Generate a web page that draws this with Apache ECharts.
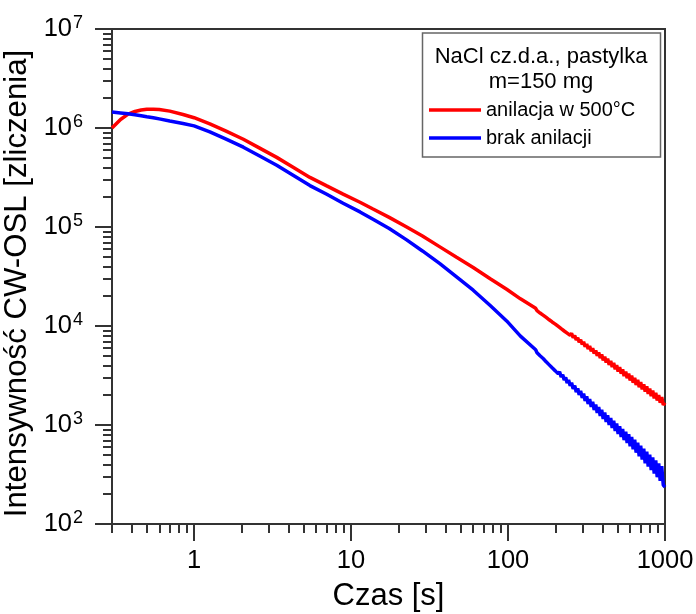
<!DOCTYPE html>
<html><head><meta charset="utf-8">
<script src="https://cdn.jsdelivr.net/npm/echarts@6/dist/echarts.min.js"></script>
<style>html,body{margin:0;padding:0;background:#fff}#c{width:696px;height:614px}</style>
</head><body><div id="c"></div>
<script>
// Time [s]
const czas = [0.3, 0.34, 0.38, 0.42, 0.46, 0.5, 0.55, 0.6, 0.7, 0.85, 1.0, 1.26, 1.6, 2.06, 2.6, 3.36, 4.3, 5.47, 7, 8.9, 11.4, 13.8, 17.5, 22.6, 28.5, 36.8, 47, 60, 77, 98, 120,
  150, 153, 157, 160, 164, 168, 171, 175, 179, 183, 187, 191, 195, 200, 204, 209, 213, 218, 223, 228,
  233, 238, 243, 249, 254, 260, 266, 272, 278, 284, 290, 297, 303, 310, 317, 324, 331, 339, 346, 354,
  362, 370, 378, 387, 395, 404, 413, 422, 431, 441, 451, 461, 471, 482, 492, 503, 514, 526, 537, 549,
  562, 574, 587, 600, 613, 627, 641, 655, 670, 685, 700, 716, 732, 748, 765, 782, 799, 817, 835, 854,
  873, 892, 912, 932, 953, 975, 1000];
// anilacja w 500°C
const anilacja500 = [1.0e6, 1.22e6, 1.38e6, 1.47e6, 1.52e6, 1.55e6, 1.55e6, 1.54e6, 1.48e6, 1.37e6, 1.27e6, 1.1e6, 9.3e5, 7.7e5, 6.3e5, 5.05e5, 4.0e5, 3.17e5, 2.6e5, 2.15e5, 1.78e5, 1.52e5, 1.25e5, 1.0e5, 8.1e4, 6.3e4, 4.95e4, 3.9e4, 3.0e4, 2.35e4, 1.88e4,
  15100, 14270, 14390, 13520, 13670, 12820, 13070, 12210, 12440, 11560, 11790, 10980, 11310, 10450, 10750, 9900, 10220, 9390, 9730, 8900,
  9280, 8470, 8830, 8040, 8430, 7610, 8000, 7220, 7610, 6840, 7270, 6510, 6930, 6170, 6580, 5850, 6270, 5560, 5970, 5270,
  5670, 5000, 5410, 4750, 5150, 4505, 4900, 4280, 4670, 4060, 4440, 3855, 4230, 3660, 4020, 3470, 3830, 3300, 3650, 3125,
  3470, 2970, 3300, 2820, 3150, 2680, 2990, 2540, 2850, 2410, 2710, 2290, 2580, 2175, 2450, 2065, 2335, 1960, 2220, 1860,
  2110, 1770, 2010, 1680, 1910, 1595, 1680];
// brak anilacji
const brakAnilacji = [1.45e6, 1.42e6, 1.39e6, 1.36e6, 1.33e6, 1.30e6, 1.27e6, 1.236e6, 1.175e6, 1.11e6, 1.05e6, 9.15e5, 7.73e5, 6.4e5, 5.24e5, 4.2e5, 3.31e5, 2.62e5, 2.14e5, 1.74e5, 1.42e5, 1.2e5, 9.66e4, 7.41e4, 5.73e4, 4.26e4, 3.13e4, 2.3e4, 1.61e4, 1.125e4, 7.9e3,
  5750, 5373, 5428, 5002, 5092, 4668, 4786, 4344, 4468, 4048, 4192, 3778, 3940, 3522, 3684, 3284, 3455, 3056, 3229, 2843,
  3023, 2659, 2848, 2486, 2674, 2315, 2501, 2154, 2348, 2012, 2212, 1880, 2079, 1751, 1948, 1633, 1831, 1525, 1719, 1420,
  1613, 1324, 1516, 1237, 1423, 1152, 1336, 1074, 1256, 1001, 1175, 933, 1105, 870, 1037, 812, 973, 757, 914, 704,
  856, 657, 805, 611, 757, 569, 710, 526, 662, 484, 618, 447, 576, 411, 538, 380, 503, 350, 470, 323,
  439, 297, 410, 273, 384, 247, 236];

const seriesNames = ['anilacja w 500°C', 'brak anilacji'];
const seriesColors = ['#ff0000', '#0000ff'];
const legendTitle = 'NaCl cz.d.a., pastylka\nm=150 mg';
const xTitle = 'Czas [s]';
const yTitle = 'Intensywność CW-OSL [zliczenia]';
const xMajor = [1, 10, 100, 1000];
const xMinor = [0.3, 0.4, 0.5, 0.6, 0.7, 0.8, 0.9, 2, 3, 4, 5, 6, 7, 8, 9, 20, 30, 40, 50, 60, 70, 80, 90, 200, 300, 400, 500, 600, 700, 800, 900];
const yMajor = [1e2, 1e3, 1e4, 1e5, 1e6, 1e7];
const yMinor = [];
[1e2, 1e3, 1e4, 1e5, 1e6].forEach(d => { for (let k = 2; k <= 9; k++) yMinor.push(k * d); });

const FF = '"Liberation Sans", Arial, sans-serif';
const AX = '#333';
const gridBox = { left: 112, right: 31, top: 29, bottom: 90, outerBoundsMode: 'none', containLabel: false };

const chart = echarts.init(document.getElementById('c'), null, { renderer: 'canvas' });
chart.setOption({
  animation: false,
  backgroundColor: '#fff',
  grid: [
    Object.assign({ show: true, borderColor: AX, borderWidth: 2, backgroundColor: 'transparent' }, gridBox),
    Object.assign({ show: false }, gridBox)
  ],
  xAxis: [
    {
      type: 'log', logBase: 10, min: 0.3, max: 1000, gridIndex: 0,
      name: xTitle, nameLocation: 'middle', nameGap: 57,
      nameTextStyle: { fontFamily: FF, fontSize: 31, color: '#000' },
      axisLine: { show: true, lineStyle: { color: AX, width: 2 } },
      axisTick: { show: true, length: 17, customValues: xMajor, lineStyle: { color: AX, width: 2 } },
      axisLabel: { customValues: xMajor, margin: 24, fontFamily: FF, fontSize: 25.5, color: '#000',
        formatter: v => String(Math.round(v)) },
      splitLine: { show: false }, minorTick: { show: false }
    },
    {
      type: 'log', logBase: 10, min: 0.3, max: 1000, gridIndex: 1,
      axisLine: { show: false },
      axisTick: { show: true, length: 9, customValues: xMinor, lineStyle: { color: AX, width: 2 } },
      axisLabel: { show: false }, splitLine: { show: false }
    }
  ],
  yAxis: [
    {
      type: 'log', logBase: 10, min: 1e2, max: 1e7, gridIndex: 0,
      name: yTitle, nameLocation: 'middle', nameGap: 66,
      nameTextStyle: { fontFamily: FF, fontSize: 31.2, color: '#000', padding: [0, 14, 0, 0] },
      axisLine: { show: true, lineStyle: { color: AX, width: 2 } },
      axisTick: { show: true, length: 17, customValues: yMajor, lineStyle: { color: AX, width: 2 } },
      axisLabel: { customValues: yMajor, margin: 29, color: '#000',
        formatter: v => '{b|10}{s|' + Math.round(Math.log10(v)) + '}',
        rich: {
          b: { fontFamily: FF, fontSize: 25.5, color: '#000', lineHeight: 30 },
          s: { fontFamily: FF, fontSize: 18, color: '#000', lineHeight: 18, verticalAlign: 'top', padding: [0, 0, 0, 1] }
        } },
      splitLine: { show: false }, minorTick: { show: false }
    },
    {
      type: 'log', logBase: 10, min: 1e2, max: 1e7, gridIndex: 1,
      axisLine: { show: false },
      axisTick: { show: true, length: 9, customValues: yMinor, lineStyle: { color: AX, width: 2 } },
      axisLabel: { show: false }, splitLine: { show: false }
    }
  ],
  legend: {
    data: seriesNames, orient: 'vertical', left: 429, top: 100, itemGap: 8,
    icon: 'rect', itemWidth: 52, itemHeight: 3.5, selectedMode: false,
    textStyle: { fontFamily: FF, fontSize: 20, color: '#000', lineHeight: 20 },
    padding: 0
  },
  graphic: [
    { type: 'rect', z: 0, shape: { x: 422.5, y: 33, width: 238, height: 124 },
      style: { fill: '#fff', stroke: '#666', lineWidth: 1.5 } },
    { type: 'text', z: 1, x: 541, y: 69.5,
      style: { text: legendTitle, fontFamily: FF, fontSize: 22, lineHeight: 25, fill: '#000', align: 'center', verticalAlign: 'middle' } }
  ],
  series: [
    { name: seriesNames[0], type: 'line', xAxisIndex: 0, yAxisIndex: 0, showSymbol: false, symbol: 'none',
      lineStyle: { color: seriesColors[0], width: 3.5 }, itemStyle: { color: seriesColors[0] },
      data: czas.map((t, i) => [t, anilacja500[i]]) },
    { name: seriesNames[1], type: 'line', xAxisIndex: 0, yAxisIndex: 0, showSymbol: false, symbol: 'none',
      lineStyle: { color: seriesColors[1], width: 3.5 }, itemStyle: { color: seriesColors[1] },
      data: czas.map((t, i) => [t, brakAnilacji[i]]) }
  ]
});
</script>
</body></html>
